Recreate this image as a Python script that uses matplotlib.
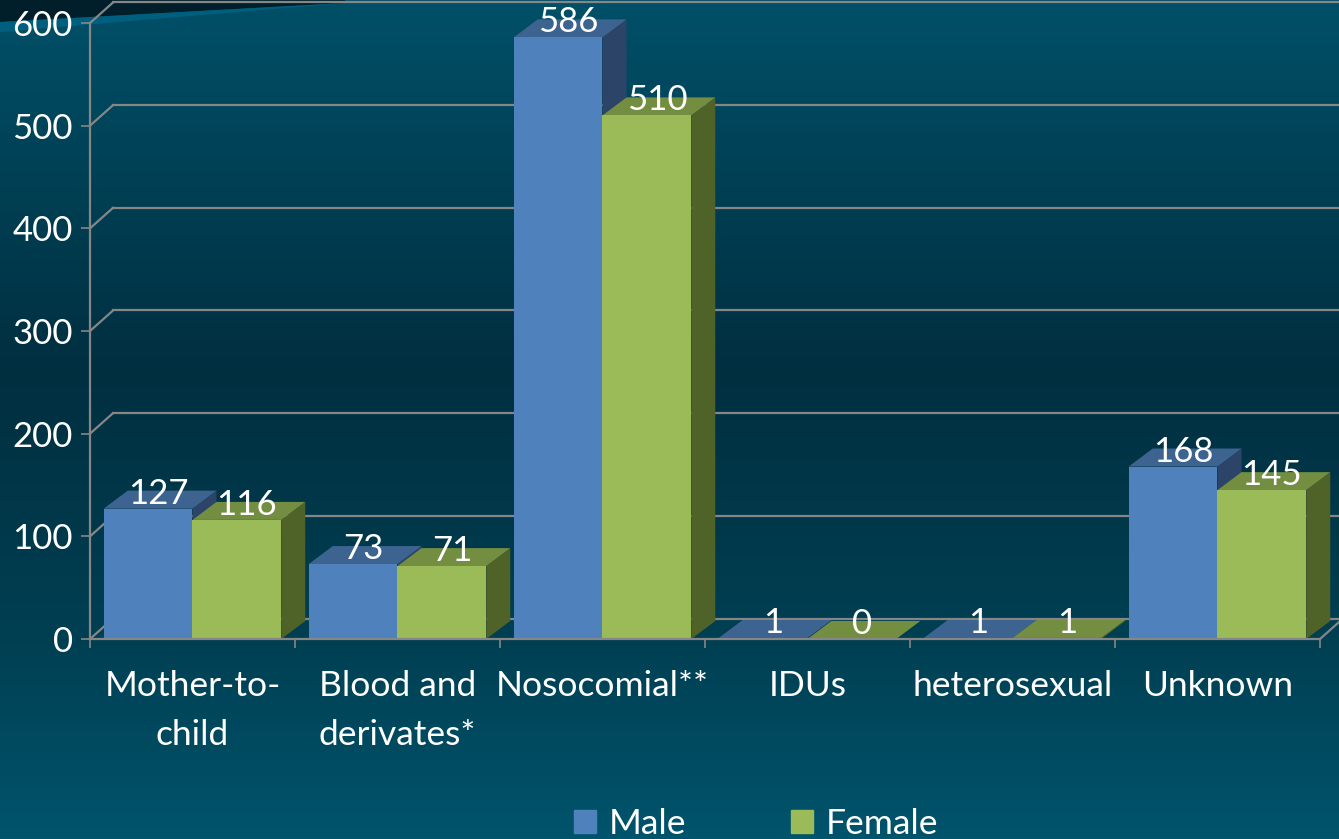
import matplotlib
matplotlib.use('Agg')
import numpy as np
import matplotlib.pyplot as plt
from matplotlib.colors import LinearSegmentedColormap
from matplotlib.patches import Patch, Polygon

categories = ["Mother-to-\nchild", "Blood and\nderivates*", "Nosocomial**", "IDUs", "heterosexual", "Unknown"]
male = [127, 73, 586, 1, 1, 168]
female = [116, 71, 510, 0, 1, 145]
y_ticks = [0, 100, 200, 300, 400, 500, 600]

W, H = 1339, 839
GRID = '#868686'
BLUE = ('#4f81bd', '#3d6390', '#2c4468')   # front, top, side
GREEN = ('#9bbb59', '#738d41', '#4f6228')

plt.rcParams['font.family'] = ['Lato', 'DejaVu Sans']

fig = plt.figure(figsize=(W / 100, H / 100), dpi=100)

# background, in pixel coordinates
bg = fig.add_axes([0, 0, 1, 1], zorder=0)
bg.set_xlim(0, W)
bg.set_ylim(H, 0)
bg.axis('off')
cmap = LinearSegmentedColormap.from_list('bg', [
    (0.0, '#005068'), (0.44, '#002f40'), (0.76, '#003f52'), (1.0, '#00546c')])
bg.imshow(np.linspace(0, 1, 256).reshape(-1, 1), cmap=cmap, aspect='auto', extent=(0, W, H, 0))
bg.add_patch(Polygon([(0, 0), (345, 0), (345, 3), (0, 22)], color='#001f2b', lw=0))
bg.add_patch(Polygon([(0, 22), (345, 3), (0, 32)], color='#005f7f', lw=0))

left, right, top, bottom = 90, 1320, 23, 639
ax = fig.add_axes([left / W, 1 - bottom / H, (right - left) / W, (bottom - top) / H], zorder=1)
ax.patch.set_alpha(0)
ax.set_xlim(0, len(categories))
ax.set_ylim(0, 600)

# depth of the fake 3D, px converted to data units
px_x = len(categories) / (right - left)
px_y = 600 / (bottom - top)
wall_dx, wall_dy = 23 * px_x, 20.5 * px_y
bar_dx, bar_dy = 24 * px_x, 18 * px_y

for v in y_ticks:
    ax.plot([0, wall_dx], [v, v + wall_dy], color=GRID, lw=1.6, clip_on=False, zorder=1)
    ax.plot([wall_dx, 6 + wall_dx], [v + wall_dy, v + wall_dy], color=GRID, lw=1.6, clip_on=False, zorder=1)
ax.plot([6, 6 + wall_dx], [0, wall_dy], color=GRID, lw=1.6, clip_on=False, zorder=1)


def draw_bar(x0, x1, v, colors, z):
    ax.add_patch(Polygon([(x1, 0), (x1 + bar_dx, bar_dy), (x1 + bar_dx, v + bar_dy), (x1, v)],
                         color=colors[2], lw=0, clip_on=False, zorder=z))
    ax.add_patch(Polygon([(x0, v), (x0 + bar_dx, v + bar_dy), (x1 + bar_dx, v + bar_dy), (x1, v)],
                         color=colors[1], lw=0, clip_on=False, zorder=z))
    ax.add_patch(Polygon([(x0, 0), (x0, v), (x1, v), (x1, 0)],
                         color=colors[0], lw=0, clip_on=False, zorder=z + 0.1))


bar_w = 0.433
for i in range(len(categories)):
    mid = i + 0.5
    draw_bar(mid - bar_w, mid, male[i], BLUE, 2 + i)
    draw_bar(mid, mid + bar_w, female[i], GREEN, 2.5 + i)
    for x, v in ((mid - bar_w / 2, male[i]), (mid + bar_w / 2, female[i])):
        ax.annotate(str(v), xy=(x, v), xytext=(10, 15), textcoords='offset pixels', ha='center',
                    va='center', color='white', fontsize=25, zorder=20, annotation_clip=False)

ax.set_xticks(range(len(categories) + 1))
ax.set_xticklabels([])
ax.set_xticks([i + 0.5 for i in range(len(categories))], minor=True)
ax.set_xticklabels(categories, minor=True, color='white', fontsize=25.5, linespacing=1.65, va='top')
ax.set_yticks(y_ticks)
ax.set_yticklabels([str(v) for v in y_ticks], color='white', fontsize=25)
ax.tick_params(axis='x', which='major', length=6.5, width=1.2, color=GRID)
ax.tick_params(axis='x', which='minor', length=0, pad=22.5)
ax.tick_params(axis='y', length=6.5, width=1.2, color=GRID, pad=6)
for side in ('top', 'right'):
    ax.spines[side].set_visible(False)
for side in ('left', 'bottom'):
    ax.spines[side].set_color(GRID)
    ax.spines[side].set_linewidth(1.6)
    ax.spines[side].set_zorder(30)

handles = [Patch(color=BLUE[0], label='Male'), Patch(color=GREEN[0], label='Female')]
fig.legend(handles=handles, loc='center', bbox_to_anchor=(756 / W, 1 - 824 / H), ncol=2, frameon=False,
           fontsize=25.5, labelcolor='white', handlelength=0.61, handleheight=0.61, handletextpad=0.36,
           columnspacing=2.96, borderpad=0, borderaxespad=0)

fig.savefig('out.png', dpi=100)
